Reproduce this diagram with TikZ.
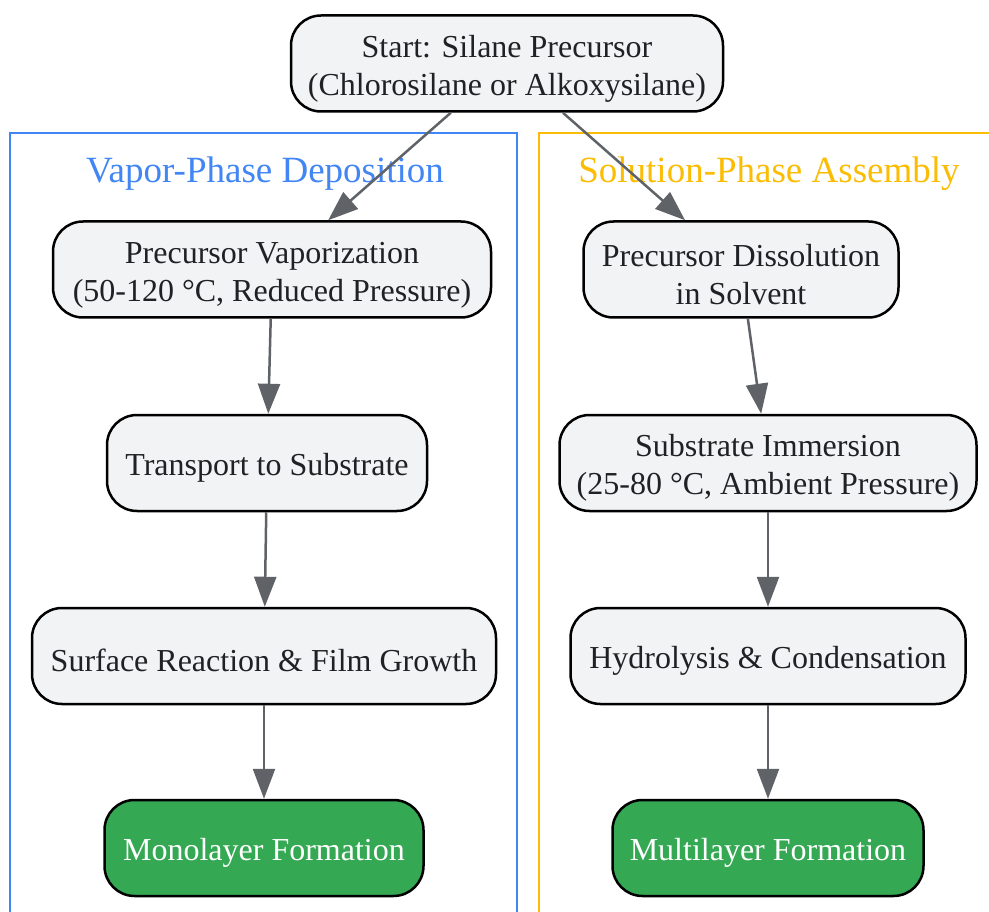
\documentclass[tikz,border=0pt]{standalone}
\usepackage{fontspec}
\setmainfont{Liberation Serif}
\usetikzlibrary{arrows.meta}
\definecolor{boxfill}{HTML}{F1F3F4}
\definecolor{boxtext}{HTML}{202124}
\definecolor{edgegray}{HTML}{5F6368}
\definecolor{vaporblue}{HTML}{4285F4}
\definecolor{solyellow}{HTML}{FBBC04}
\definecolor{donegreen}{HTML}{34A853}
\newcommand{\topstrut}{\rule{0pt}{32pt}}

\begin{document}
\begin{tikzpicture}
[x=1pt,y=-1pt,
every node/.style={rectangle,rounded corners=30pt,draw=black,line width=2.5pt,
  fill=boxfill,text=boxtext,align=center,inner sep=0pt,minimum height=96pt,
  font=\fontsize{32}{38}\selectfont},
finalbox/.style={fill=donegreen,text=white},
clustertitle/.style={draw=none,fill=none,minimum height=0pt,rounded corners=0pt,
  font=\fontsize{37}{44}\selectfont},
edge/.style={draw=edgegray,line width=2.5pt,-{Triangle[length=30pt,width=22pt]}}]
\useasboundingbox (0,0) rectangle (989,912);
\clip (0,0) rectangle (989,912);
\draw[vaporblue,line width=2.2pt] (10,133) rectangle (517,930);
\draw[solyellow,line width=2.2pt] (539,133) rectangle (1000,930);
\node[clustertitle,text=vaporblue] (vtitle) at (265,174) {Vapor-Phase Deposition};
\node[clustertitle,text=solyellow] (stitle) at (769,174) {Solution-Phase Assembly};
\node[minimum width=432pt] (start) at (507,63.5) {\topstrut Start: Silane Precursor\\(Chlorosilane or Alkoxysilane)};
\node[minimum width=438pt] (vap) at (272,269.5) {\topstrut Precursor Vaporization\\(50-120 °C, Reduced Pressure)};
\node[minimum width=320pt] (tra) at (267,463) {\topstrut Transport to Substrate};
\node[minimum width=464pt] (sur) at (264,656) {\topstrut Surface Reaction \& Film Growth};
\node[finalbox,minimum width=319pt] (mono) at (264,848) {\topstrut Monolayer Formation};
\node[minimum width=315pt] (dis) at (741,269.5) {\topstrut Precursor Dissolution\\in Solvent};
\node[minimum width=417pt] (imm) at (768,463) {\topstrut Substrate Immersion\\(25-80 °C, Ambient Pressure)};
\node[minimum width=395pt] (hyd) at (768,656) {\topstrut Hydrolysis \& Condensation};
\node[finalbox,minimum width=311pt] (multi) at (768,848) {\topstrut Multilayer Formation};
\foreach \from/\to in {start/vap,start/dis,vap/tra,tra/sur,sur/mono,dis/imm,imm/hyd,hyd/multi}
\draw[edge] (\from) -- (\to);
\end{tikzpicture}
\end{document}
